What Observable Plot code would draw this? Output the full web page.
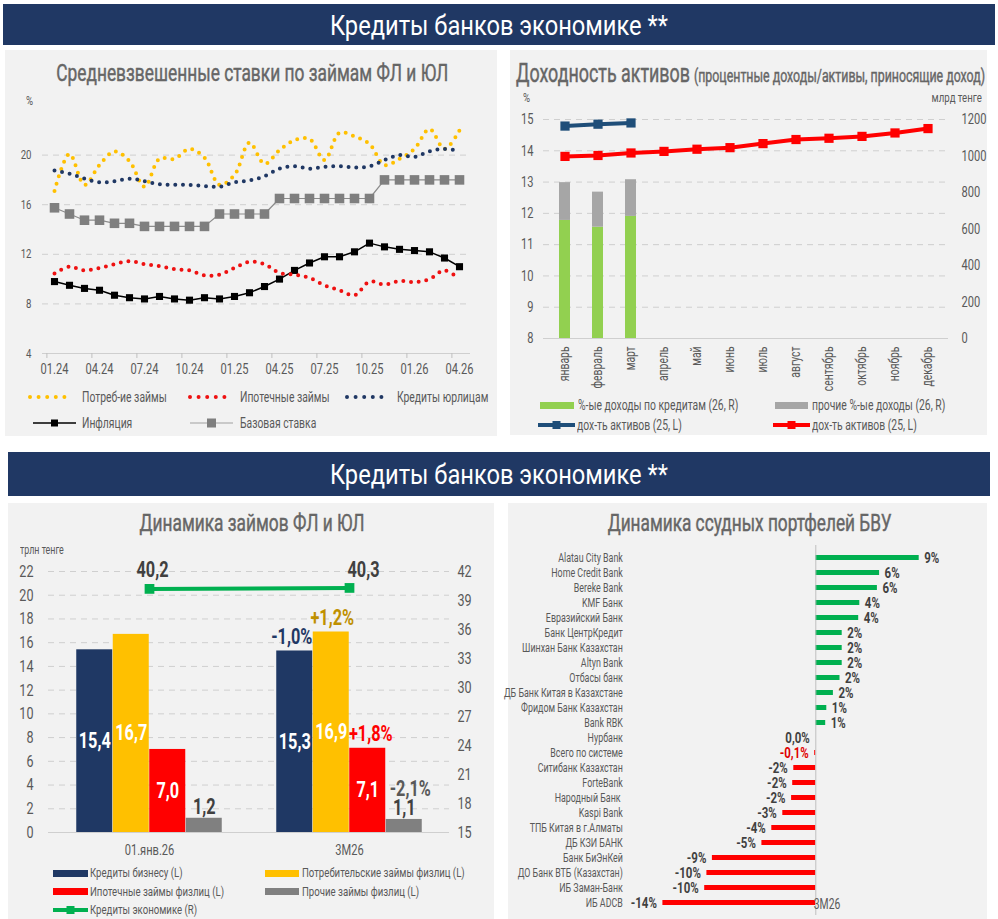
<!DOCTYPE html>
<html><head><meta charset="utf-8">
<script src="https://cdn.jsdelivr.net/npm/d3@7"></script>
<script src="https://cdn.jsdelivr.net/npm/@observablehq/plot@0.6"></script>
<style>
body{margin:0;background:#fff;}
#root{position:relative;width:998px;height:919px;overflow:hidden;font-family:Roboto,"Noto Sans",sans-serif;}
.abs{position:absolute;white-space:nowrap;}
.bannerbg{background:#203864;}
.bannertx{color:#fff;font-size:28px;}
.panel{background:#f2f2f2;}
.title{color:#666;font-size:24px;font-weight:400;-webkit-text-stroke:0.45px #666;}
.leg{color:#595959;font-size:14px;}
</style></head>
<body><div id="root"></div>
<script>
const FONT = 'Roboto,"Noto Sans",sans-serif';

// ---------- Data: top-left (weighted average rates, %) ----------
const months = ["01.24","02.24","03.24","04.24","05.24","06.24","07.24","08.24","09.24","10.24","11.24","12.24",
  "01.25","02.25","03.25","04.25","05.25","06.25","07.25","08.25","09.25","10.25","11.25","12.25",
  "01.26","02.26","03.26","04.26"];
const consumerRate = [17.1,20.1,17.6,19.2,20.3,19.5,17.45,19.7,19.7,20.5,19.8,17.6,18.4,21.0,19.3,20.4,21.2,21.3,19.6,21.8,21.5,20.9,19.2,19.7,20.5,22.1,20.5,22.0];
const mortgageRate = [10.45,11.0,10.7,10.9,11.2,11.45,11.2,11.05,10.8,10.7,10.3,10.35,10.9,11.4,11.2,10.5,10.35,10.1,9.5,9.1,8.7,9.8,9.55,9.85,9.75,10.0,10.7,10.0];
const corporateRate = [18.75,18.5,18.1,17.8,17.9,18.1,17.9,17.65,17.6,17.6,17.5,17.45,17.8,17.95,18.3,18.9,19.1,18.9,19.05,19.1,19.0,19.1,19.6,20.0,19.85,20.3,20.5,20.35];
const inflation = [9.8,9.5,9.25,9.1,8.7,8.5,8.4,8.6,8.4,8.3,8.5,8.4,8.6,8.9,9.4,10.0,10.7,11.3,11.8,11.8,12.2,12.9,12.6,12.4,12.3,12.2,11.7,11.0];
const baseRate = [15.75,15.25,14.75,14.75,14.5,14.5,14.25,14.25,14.25,14.25,14.25,15.25,15.25,15.25,15.25,16.5,16.5,16.5,16.5,16.5,16.5,16.5,18,18,18,18,18,18];
const tlYTicks = [4,8,12,16,20];

// ---------- Data: top-right (asset yield) ----------
const monthsRu = ["январь","февраль","март","апрель","май","июнь","июль","август","сентябрь","октябрь","ноябрь","декабрь"];
const yieldRed = [13.82,13.85,13.93,13.98,14.05,14.10,14.23,14.36,14.40,14.46,14.57,14.71];
const yieldBlue = [14.79,14.85,14.89];
const loanIncome = [647,610,669];
const otherIncome = [207,192,201];
const trLeftTicks = [8,9,10,11,12,13,14,15];
const trRightTicks = [0,200,400,600,800,1000,1200];

// ---------- Data: bottom-left (loans, trln tenge) ----------
const blCats = ["01.янв.26","3M26"];
const business = [15.4,15.3];
const consumerLoans = [16.7,16.9];
const mortgageLoans = [7.0,7.1];
const otherLoans = [1.2,1.1];
const economyLoans = [40.2,40.3];
const changes = [-1.0,1.2,1.8,-2.1];
const blLeftTicks = [0,2,4,6,8,10,12,14,16,18,20,22];
const blRightTicks = [15,18,21,24,27,30,33,36,39,42];

// ---------- Data: bottom-right (loan portfolio change, %) ----------
const banks = ["Alatau City Bank","Home Credit Bank","Bereke Bank","KMF Банк","Евразийский Банк","Банк ЦентрКредит",
  "Шинхан Банк Казахстан","Altyn Bank","Отбасы банк","ДБ Банк Китая в Казахстане","Фридом Банк Казахстан","Bank RBK",
  "Нурбанк","Всего по системе","Ситибанк Казахстан","ForteBank","Народный Банк ","Kaspi Bank","ТПБ Китая в г.Алматы",
  "ДБ КЗИ БАНК","Банк БиЭнКей","ДО Банк ВТБ (Казахстан)","ИБ Заман-Банк","ИБ ADCB"];
const bankChange = [9.4,5.8,5.6,4.0,3.9,2.4,2.4,2.4,2.2,1.6,1.0,0.9,0.0,-0.1,-2.0,-2.1,-2.2,-3.0,-4.0,-4.9,-9.4,-9.9,-10.1,-13.9];
const bankLabels = ["9%","6%","6%","4%","4%","2%","2%","2%","2%","2%","1%","1%","0,0%","-0,1%","-2%","-2%","-2%","-3%","-4%","-5%","-9%","-10%","-10%","-14%"];

// ---------- helpers ----------
const root = document.getElementById("root");
const K = 0.74; // horizontal condensation of text (reference uses a condensed face)
function div(cls, st, html) {
  const d = document.createElement("div");
  d.className = "abs " + cls;
  for (const k in st) d.style[k] = typeof st[k] === "number" ? st[k] + "px" : st[k];
  d.innerHTML = html;
  root.appendChild(d);
  return d;
}
function condenseSvg(svg, k) {
  svg.querySelectorAll("text").forEach(t => {
    const len = t.getComputedTextLength();
    if (len > 0) { t.setAttribute("textLength", (len * k).toFixed(2)); t.setAttribute("lengthAdjust", "spacingAndGlyphs"); }
  });
}
function place(svg, left, top, k) {
  const w = document.createElement("div");
  w.className = "abs";
  w.style.left = left + "px"; w.style.top = top + "px";
  w.appendChild(svg);
  root.appendChild(w);
  condenseSvg(svg, k || K);
}
function txt(cls, x, y, html, anchor, target, st) {
  const d = div(cls, Object.assign({left: 0, top: 0}, st || {}), html);
  const r = d.getBoundingClientRect();
  const s = target ? target / r.width : K;
  const w = r.width;
  d.style.top = (y - r.height / 2) + "px";
  if (anchor === "middle") { d.style.left = (x - w / 2) + "px"; d.style.transformOrigin = "center center"; }
  else if (anchor === "end") { d.style.left = (x - w) + "px"; d.style.transformOrigin = "right center"; }
  else { d.style.left = x + "px"; d.style.transformOrigin = "left center"; }
  d.style.transform = `scaleX(${s})`;
  return d;
}
const swDots = c => `<svg width="48" height="10" style="display:block"><line x1="3" y1="5" x2="46" y2="5" stroke="${c}" stroke-width="4" stroke-linecap="round" stroke-dasharray="0,8.6"/></svg>`;
const swLineSq = (c, w, sq, lw, lc) => `<svg width="${w}" height="12" style="display:block"><line x1="0" y1="6" x2="${w}" y2="6" stroke="${lc||c}" stroke-width="${lw}"/><rect x="${w/2-sq/2}" y="${6-sq/2}" width="${sq}" height="${sq}" fill="${c}"/></svg>`;
const swRect = (c, w, h) => `<svg width="${w}" height="${h}" style="display:block"><rect width="${w}" height="${h}" fill="${c}"/></svg>`;
function legend(swX, y, sw, swH, textX, text, fs) {
  div("", {left: swX, top: y - swH / 2}, sw);
  txt("leg", textX, y, text, "start", null, {fontSize: (fs || 14) + "px", lineHeight: "20px"});
}
const dec = v => v.toFixed(1).replace(".", ",");
const pct = v => (v < 0 ? "-" : "+") + Math.abs(v).toFixed(1).replace(".", ",") + "%";
const baseStyle = {background: "transparent", fontFamily: FONT, color: "#595959", overflow: "visible"};
const dash = {stroke: "#cfcfcf", strokeOpacity: 1, strokeDasharray: "6,5"};

// ---------- layout ----------
div("bannerbg", {left: 3, top: 4, width: 992, height: 41}, "");
txt("bannertx", 499, 25, "Кредиты банков экономике **", "middle", 338);
div("panel", {left: 5, top: 50, width: 492, height: 386}, "");
div("panel", {left: 510, top: 50, width: 477, height: 385}, "");
div("bannerbg", {left: 8, top: 452, width: 982, height: 44}, "");
txt("bannertx", 499, 474, "Кредиты банков экономике **", "middle", 338);
div("panel", {left: 8, top: 503, width: 486, height: 416}, "");
div("panel", {left: 508, top: 503, width: 479, height: 416}, "");

// ---------- top-left ----------
txt("title", 252, 73, "Средневзвешенные ставки по займам ФЛ и ЮЛ", "middle", 392);
txt("leg", 26, 100, "%", "start", null, {fontSize: "13px"});
const tlRows = months.map((m, i) => ({m, consumer: consumerRate[i], mortgage: mortgageRate[i], corporate: corporateRate[i], inflation: inflation[i], base: baseRate[i]}));
const tlTicks = months.filter((d, i) => i % 3 === 0);
const dotted = {strokeWidth: 4, strokeDasharray: "0,7.7", strokeLinecap: "round", curve: "catmull-rom"};
place(Plot.plot({
  width: 490, height: 293, marginLeft: 42, marginRight: 20, marginTop: 15, marginBottom: 30,
  style: {...baseStyle, fontSize: "13px"},
  x: {type: "point", domain: months, padding: 0.5},
  y: {domain: [4, 24]},
  marks: [
    Plot.gridY(tlYTicks.filter(d => d > 4), dash),
    Plot.ruleY([4], {stroke: "#cfcfcf"}),
    Plot.axisY(tlYTicks, {tickSize: 0, tickPadding: 11, label: null}),
    Plot.axisX(tlTicks, {tickSize: 5, tickFormat: () => "", dx: -7.6, stroke: "#bfbfbf", label: null}),
    Plot.axisX(tlTicks, {tickSize: 0, tickPadding: 10, fontSize: 15, label: null}),
    Plot.line(tlRows, {x: "m", y: "base", stroke: "#8c8c8c", strokeWidth: 1.2}),
    Plot.dot(tlRows, {x: "m", y: "base", symbol: "square", r: 5.4, fill: "#7f7f7f"}),
    Plot.line(tlRows, {x: "m", y: "inflation", stroke: "#000", strokeWidth: 1.5}),
    Plot.dot(tlRows, {x: "m", y: "inflation", symbol: "square", r: 4, fill: "#000"}),
    Plot.line(tlRows, {x: "m", y: "consumer", stroke: "#ffc000", ...dotted}),
    Plot.line(tlRows, {x: "m", y: "mortgage", stroke: "#ee1111", ...dotted}),
    Plot.line(tlRows, {x: "m", y: "corporate", stroke: "#203864", ...dotted})
  ]
}), 0, 90);
legend(27, 397, swDots("#ffc000"), 10, 82, "Потреб-ие займы");
legend(187, 397, swDots("#ee1111"), 10, 240, "Ипотечные займы");
legend(344, 397, swDots("#203864"), 10, 397, "Кредиты юрлицам");
legend(33, 423, swLineSq("#000", 43, 7, 1.5), 12, 82, "Инфляция");
legend(190, 423, swLineSq("#7f7f7f", 43, 9, 1.2, "#a0a0a0"), 12, 240, "Базовая ставка");

// ---------- top-right ----------
txt("title", 516, 73, `<span style="font-size:26px">Доходность активов</span> <span style="font-size:18px">(процентные доходы/активы, приносящие доход)</span>`, "start", 469);
txt("leg", 523, 97, "%", "start", null, {fontSize: "13px"});
txt("leg", 982, 97, "млрд тенге", "end", null, {fontSize: "13px"});
const toL = v => 8 + v * 7 / 1200;
const trRows = monthsRu.map((m, i) => ({m, red: yieldRed[i], blue: yieldBlue[i], loans: loanIncome[i], other: otherIncome[i]}));
const trBars = trRows.filter(d => d.loans != null);
const trBlue = trRows.filter(d => d.blue != null);
place(Plot.plot({
  width: 495, height: 304, marginLeft: 43, marginRight: 47, marginTop: 30, marginBottom: 55,
  style: {...baseStyle, fontSize: "15px"},
  x: {type: "band", domain: monthsRu, paddingInner: 0.67, paddingOuter: 0.335},
  y: {domain: [8, 15]},
  marks: [
    Plot.gridY(trLeftTicks.filter(d => d > 8), dash),
    Plot.ruleY([8], {stroke: "#cfcfcf"}),
    Plot.axisY(trLeftTicks, {tickSize: 0, tickPadding: 10, label: null}),
    Plot.axisY(trRightTicks.map(toL), {anchor: "right", tickSize: 0, tickPadding: 13, tickFormat: d => String(Math.round((d - 8) * 1200 / 7)), label: null}),
    Plot.axisX({tickSize: 0, tickRotate: -90, tickPadding: 8, fontSize: 14, label: null}),
    Plot.barY(trBars, {x: "m", y1: () => 8, y2: d => toL(d.loans), fill: "#92d050"}),
    Plot.barY(trBars, {x: "m", y1: d => toL(d.loans), y2: d => toL(d.loans + d.other), fill: "#a6a6a6"}),
    Plot.line(trRows, {x: "m", y: "red", stroke: "#ff0000", strokeWidth: 4}),
    Plot.dot(trRows, {x: "m", y: "red", symbol: "square", r: 5.2, fill: "#ff0000"}),
    Plot.line(trBlue, {x: "m", y: "blue", stroke: "#1f4e79", strokeWidth: 4}),
    Plot.dot(trBlue, {x: "m", y: "blue", symbol: "square", r: 5.2, fill: "#1f4e79"})
  ]
}), 500, 89);
legend(540, 405, swRect("#92d050", 34, 7), 7, 578, "%-ые доходы по кредитам (26, R)");
legend(775, 405, swRect("#a6a6a6", 33, 7), 7, 812, "прочие %-ые доходы (26, R)");
legend(538, 425, swLineSq("#1f4e79", 37, 8, 4), 12, 577, "дох-ть активов (25, L)");
legend(773, 425, swLineSq("#ff0000", 37, 8, 4), 12, 812, "дох-ть активов (25, L)");

// ---------- bottom-left ----------
txt("title", 252, 523, "Динамика займов ФЛ и ЮЛ", "middle", 225);
txt("leg", 20, 550, "трлн тенге", "start", null, {fontSize: "12px"});
const toB = v => (v - 15) * 22 / 27;
const blRows = blCats.map((c, i) => ({c, biz: business[i], cons: consumerLoans[i], mort: mortgageLoans[i], other: otherLoans[i], econ: economyLoans[i]}));
const BAND = 200.5, BARW = 36.5, OUTER = 27.25;
const blSeries = [
  {key: "biz", fill: "#1f3864", lab: "#fff", chg: "#1f3864", shift: -3},
  {key: "cons", fill: "#ffc000", lab: "#fff", chg: "#bf9000", shift: 1},
  {key: "mort", fill: "#ff0000", lab: "#fff", chg: "#ff0000", shift: 3},
  {key: "other", fill: "#808080", lab: "#404040", chg: "#595959", shift: 6}
];
const bold = {fontWeight: "bold", fontSize: 22};
const blMarks = [
  Plot.gridY(blLeftTicks.filter(d => d > 0), dash),
  Plot.ruleY([0], {stroke: "#cfcfcf"}),
  Plot.axisY(blLeftTicks, {tickSize: 0, tickPadding: 15, fontSize: 17, label: null}),
  Plot.axisY(blRightTicks.map(toB), {anchor: "right", tickSize: 0, tickPadding: 8, fontSize: 17, tickFormat: d => String(Math.round(d * 27 / 22 + 15)), label: null}),
  Plot.axisX({tickSize: 0, tickPadding: 12, fontSize: 15, label: null})
];
blSeries.forEach((s, i) => {
  const off = -BAND / 2 + OUTER + BARW * i + BARW / 2;
  blMarks.push(Plot.barY(blRows, {x: "c", y1: () => 0, y2: s.key, fill: s.fill, insetLeft: OUTER + BARW * i, insetRight: BAND - OUTER - BARW * (i + 1)}));
  if (s.key === "other")
    blMarks.push(Plot.text(blRows, {x: "c", y: s.key, text: d => dec(d[s.key]), dx: off, dy: -11, fill: s.lab, ...bold}));
  else
    blMarks.push(Plot.text(blRows, {x: "c", y: d => d[s.key] / 2, text: d => dec(d[s.key]), dx: off, fill: s.lab, ...bold}));
  const chRow = [{c: blRows[1].c, v: blRows[1][s.key], ch: changes[i]}];
  blMarks.push(Plot.text(chRow, {x: "c", y: "v", text: d => pct(d.ch), dx: off + s.shift, dy: s.key === "other" ? -30 : -14, fill: s.chg, ...bold}));
});
blMarks.push(
  Plot.line(blRows, {x: "c", y: d => toB(d.econ), stroke: "#00b050", strokeWidth: 4}),
  Plot.dot(blRows, {x: "c", y: d => toB(d.econ), symbol: "square", r: 5.5, fill: "#00b050"}),
  Plot.text(blRows.slice(0, 1), {x: "c", y: d => toB(d.econ), text: d => dec(d.econ), dx: 3, dy: -19, fill: "#404040", ...bold}),
  Plot.text(blRows.slice(1), {x: "c", y: d => toB(d.econ), text: d => dec(d.econ), textAnchor: "start", dx: -2, dy: -18, fill: "#404040", ...bold})
);
place(Plot.plot({
  width: 497, height: 317, marginLeft: 48, marginRight: 48, marginTop: 26, marginBottom: 30,
  style: {...baseStyle, fontSize: "15px"},
  x: {type: "band", domain: blCats, padding: 0},
  y: {domain: [0, 22]},
  marks: blMarks
}), 0, 545);
legend(53, 873, swRect("#1f3864", 35, 7), 7, 90, "Кредиты бизнесу (L)", 13);
legend(265, 873, swRect("#ffc000", 34, 7), 7, 302, "Потребительские займы физлиц (L)", 13);
legend(53, 891.5, swRect("#ff0000", 35, 7), 7, 90, "Ипотечные займы физлиц (L)", 13);
legend(265, 891.5, swRect("#808080", 34, 7), 7, 302, "Прочие займы физлиц (L)", 13);
legend(53, 910, swLineSq("#00b050", 35, 8, 4), 12, 90, "Кредиты экономике (R)", 13);

// ---------- bottom-right ----------
txt("title", 750, 523, "Динамика ссудных портфелей БВУ", "middle", 284);
const brRows = banks.map((b, i) => ({b, v: bankChange[i], lab: bankLabels[i]}));
const lblBold = {fontWeight: "bold", fontSize: 15.5};
place(Plot.plot({
  width: 480, height: 370, marginLeft: 129.3, marginRight: 64.7, marginTop: 0, marginBottom: 0,
  style: {...baseStyle, fontSize: "12px"},
  x: {domain: [-16, 10], axis: null},
  y: {type: "band", domain: banks, paddingInner: 0.67, paddingOuter: 0.335},
  color: {type: "identity"},
  marks: [
    Plot.axisY({tickSize: 0, tickPadding: 17, label: null}),
    Plot.barX(brRows, {y: "b", x1: () => 0, x2: "v", fill: d => d.v >= 0 ? "#00b050" : "#ff0000"}),
    Plot.ruleX([0], {stroke: "#bfbfbf"}),
    Plot.text(brRows.filter(d => d.v > 0), {y: "b", x: "v", text: "lab", textAnchor: "start", dx: 5, fill: "#404040", ...lblBold}),
    Plot.text(brRows.filter(d => d.v <= 0), {y: "b", x: "v", text: "lab", textAnchor: "end", dx: -6, fill: d => d.b === "Всего по системе" ? "#e00000" : "#404040", ...lblBold}),
    Plot.text(["3M26"], {x: () => 0, text: d => d, frameAnchor: "bottom", textAnchor: "start", dx: -2, dy: -7, fill: "#595959", fontSize: 14})
  ]
}), 510, 545);
</script>
</body></html>
